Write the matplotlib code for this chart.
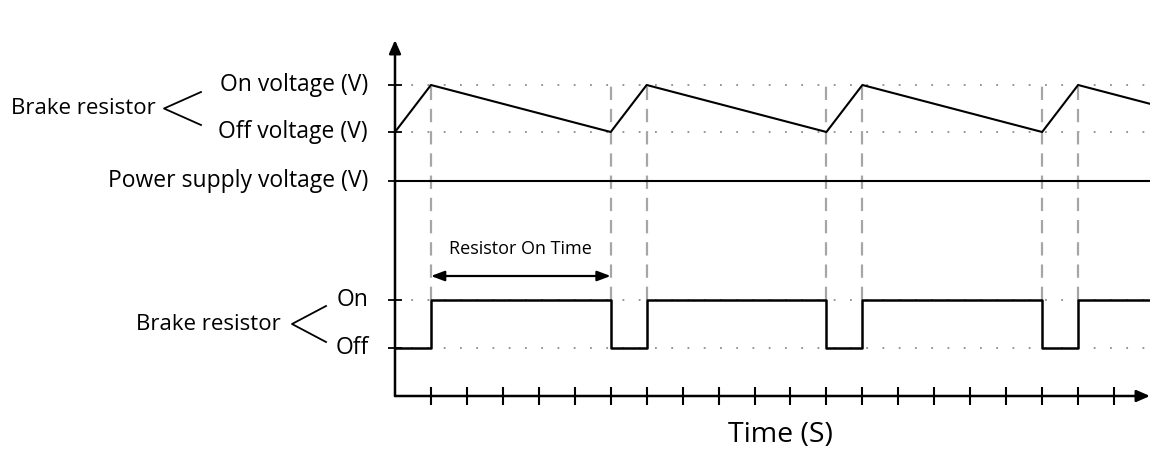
import matplotlib
matplotlib.use("Agg")
import matplotlib.pyplot as plt
import matplotlib.transforms as mtransforms

plt.rcParams['font.family'] = ['Open Sans', 'DejaVu Sans']

# ---- data (schematic levels, time in ticks) ----
level_off = 48        # brake resistor Off
level_on = 96         # brake resistor On
level_supply = 215    # power supply voltage
level_offv = 264      # off voltage
level_onv = 311       # on voltage
y_top = 356

saw_t = [0, 1, 6, 7, 12, 13, 18, 19, 21]
saw_v = [level_offv, level_onv, level_offv, level_onv, level_offv, level_onv, level_offv, level_onv, 292.2]

sq_t = [0, 1, 1, 6, 6, 7, 7, 12, 12, 13, 13, 18, 18, 19, 19, 21]
sq_v = [level_off, level_off, level_on, level_on, level_off, level_off, level_on, level_on,
        level_off, level_off, level_on, level_on, level_off, level_off, level_on, level_on]

switch_times = [1, 6, 7, 12, 13, 18, 19]
x_ticks = list(range(1, 21))
t_end = 21

W, H = 1156, 449
fig = plt.figure(figsize=(W / 100, H / 100), dpi=100)
ax = fig.add_axes([395 / W, (H - 396) / H, (1150 - 395) / W, (396 - 40) / H])
ax.set_xlim(0, t_end)
ax.set_ylim(0, y_top)
for s in ax.spines.values():
    s.set_visible(False)

# dotted reference levels
for lv in [level_onv, level_offv, level_on, level_off]:
    ax.plot([0, t_end], [lv, lv], color='#8c8c8c', lw=1.3, linestyle=(0, (1, 8)), zorder=1)

# dashed switching lines
for t in switch_times:
    ax.plot([t, t], [level_on, level_onv], color='#a6a6a6', lw=1.6, linestyle=(0, (6, 4)), zorder=1)

# power supply line
ax.plot([0, t_end], [level_supply, level_supply], color='black', lw=1.5, zorder=3)
# sawtooth
ax.plot(saw_t, saw_v, color='black', lw=1.5, zorder=3)
# square wave
ax.plot(sq_t, sq_v, color='black', lw=1.8, zorder=3)

# axes with arrows
ax.annotate('', xy=(t_end, 0), xytext=(0, 0),
            arrowprops=dict(arrowstyle='-|>,head_length=0.8,head_width=0.35', color='black', lw=1.8,
                            shrinkA=0, shrinkB=0), annotation_clip=False)
ax.annotate('', xy=(0, y_top), xytext=(0, 0),
            arrowprops=dict(arrowstyle='-|>,head_length=0.8,head_width=0.35', color='black', lw=1.8,
                            shrinkA=0, shrinkB=0), annotation_clip=False)

ax.set_xticks(x_ticks)
ax.set_xticklabels([])
ax.set_yticks([level_off, level_on, level_supply, level_offv, level_onv])
ax.set_yticklabels([])
ax.tick_params(axis='x', direction='inout', length=13, width=1.5)
ax.tick_params(axis='y', direction='inout', length=10, width=1.3)

# resistor on time arrow
ax.annotate('', xy=(6, 120), xytext=(1, 120),
            arrowprops=dict(arrowstyle='<|-|>,head_length=0.8,head_width=0.3', color='black', lw=1.6,
                            shrinkA=0, shrinkB=0))
ax.text(3.5, 147, 'Resistor On Time', ha='center', va='center', fontsize=13)

# left labels
tr = mtransforms.blended_transform_factory(fig.transFigure, ax.transData)
def fx(px):
    return px / W

fs = 16.5
ax.text(fx(368), level_onv, 'On voltage (V)', transform=tr, ha='right', va='center', fontsize=fs)
ax.text(fx(368), level_offv, 'Off voltage (V)', transform=tr, ha='right', va='center', fontsize=fs)
ax.text(fx(368), level_supply, 'Power supply voltage (V)', transform=tr, ha='right', va='center', fontsize=fs)
ax.text(fx(156), (level_onv + level_offv) / 2, 'Brake resistor', transform=tr, ha='right', va='center', fontsize=16)
ax.plot([fx(201), fx(164), fx(201)], [level_onv - 7, (level_onv + level_offv) / 2, level_offv + 7],
        transform=tr, color='black', lw=1.3, clip_on=False)

ax.text(fx(369), level_on, 'On', transform=tr, ha='right', va='center', fontsize=fs)
ax.text(fx(369), level_off, 'Off', transform=tr, ha='right', va='center', fontsize=fs)
ax.text(fx(281), (level_on + level_off) / 2, 'Brake resistor', transform=tr, ha='right', va='center', fontsize=16)
ax.plot([fx(326), fx(292), fx(326)], [level_on - 6, (level_on + level_off) / 2, level_off + 6],
        transform=tr, color='black', lw=1.3, clip_on=False)

fig.text(780 / W, 1 - 435 / H, 'Time (S)', ha='center', va='center', fontsize=20.5)

fig.savefig('out.png', dpi=100)
